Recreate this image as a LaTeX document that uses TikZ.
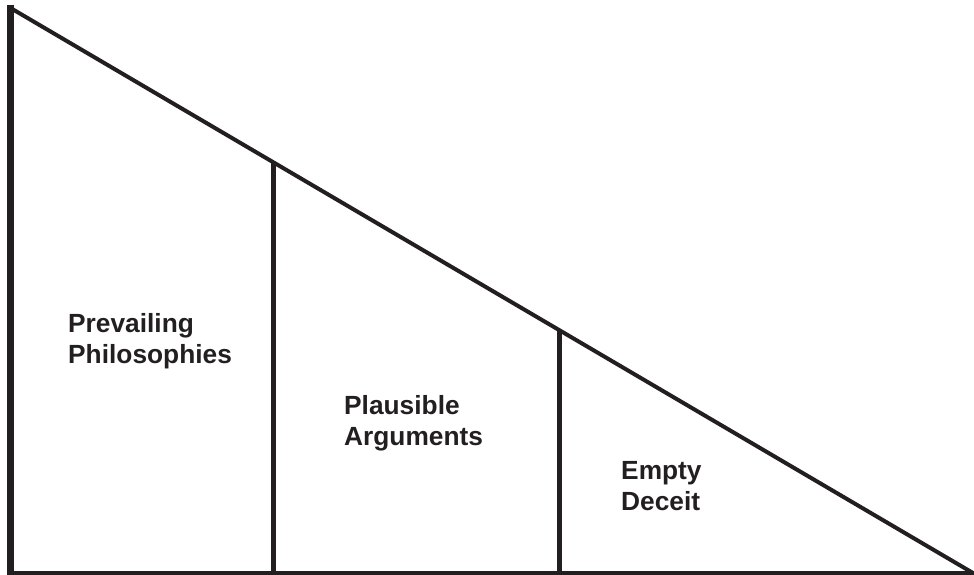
\documentclass[tikz,border=0pt]{standalone}
\usepackage{fontspec}
\setmainfont{Liberation Sans}
\usetikzlibrary{positioning}

\definecolor{ink}{HTML}{231F20}

\begin{document}
\begin{tikzpicture}[
  x=1pt, y=-1pt,
  edge/.style={draw=ink, line width=4pt},
  thick edge/.style={draw=ink, line width=7pt},
  divider/.style={draw=ink, line width=5pt},
  lbl/.style={anchor=base west, inner sep=0pt, align=left, text=ink,
    font=\fontsize{26.3}{31}\selectfont\bfseries},
]
\useasboundingbox (0,0) rectangle (974,575);

%% --- Triangle --------------------------------------------------------
\coordinate (top)   at (10.5,8);
\coordinate (base)  at (10.5,573);
\coordinate (tip)   at (973,573);
\coordinate (d1top) at (273,162.2);
\coordinate (d1bot) at (273,573);
\coordinate (d2top) at (559.5,330.4);
\coordinate (d2bot) at (559.5,573);

\draw[edge, line join=miter] (top) -- (tip) -- (base);
\draw[thick edge] (10.5,5) -- (10.5,575);

%% --- Dividers -------------------------------------------------------
\draw[divider] (d1top) -- (d1bot);
\draw[divider] (d2top) -- (d2bot);

%% --- Labels (anchored at the baseline of the second line) -----------
\node[lbl] (prev)  at (68,363)  {Prevailing\\Philosophies};
\node[lbl] (plaus) at (344,445) {Plausible\\Arguments};
\node[lbl] (empty) at (621,510) {Empty\\Deceit};

\end{tikzpicture}
\end{document}
